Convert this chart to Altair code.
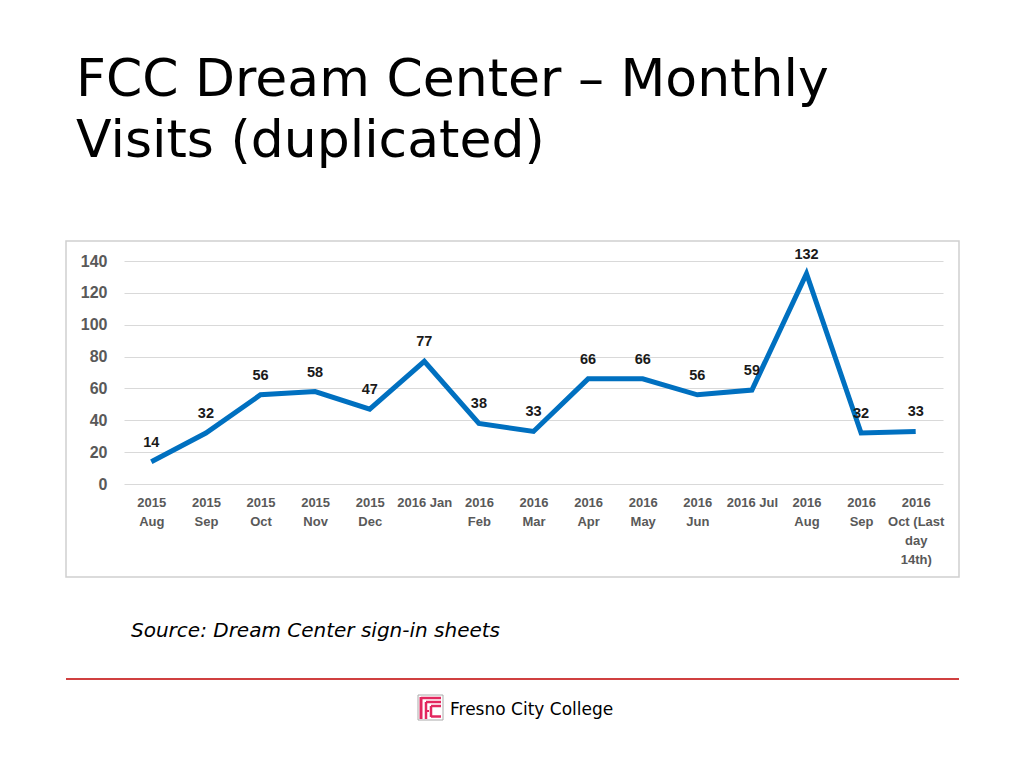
import altair as alt
import pandas as pd

months = ["2015|Aug", "2015|Sep", "2015|Oct", "2015|Nov", "2015|Dec", "2016 Jan",
          "2016|Feb", "2016|Mar", "2016|Apr", "2016|May", "2016|Jun", "2016 Jul",
          "2016|Aug", "2016|Sep", "2016|Oct (Last|day|14th)"]
visits = [14, 32, 56, 58, 47, 77, 38, 33, 66, 66, 56, 59, 132, 32, 33]
y_ticks = [0, 20, 40, 60, 80, 100, 120, 140]

title_lines = ["FCC Dream Center – Monthly", "Visits (duplicated)"]
source_text = "Source: Dream Center sign-in sheets"
footer_text = "Fresno City College"

df = pd.DataFrame({"month": months, "visits": visits})
one = alt.Data(values=[{}])

W, H = 819, 223

x_enc = alt.X("month:N", sort=months, title=None,
              scale=alt.Scale(type="point", padding=0.5),
              axis=alt.Axis(labelAngle=0, labelExpr="split(datum.label, '|')",
                            labelFont="Liberation Sans", labelFontWeight="bold",
                            labelFontSize=13, labelColor="#595959",
                            labelLineHeight=19, labelPadding=12, ticks=False,
                            domain=False, grid=False, labelAlign="center",
                            labelOverlap=False))
y_enc = alt.Y("visits:Q", title=None,
              scale=alt.Scale(domain=[0, 140], nice=False),
              axis=alt.Axis(values=y_ticks, tickCount=8, labelFont="Liberation Sans",
                            labelFontWeight="bold", labelFontSize=16,
                            labelColor="#595959", labelPadding=17, ticks=False,
                            domain=False, gridColor="#d9d9d9", gridWidth=1,
                            labelOverlap=False))

frame = alt.Chart(one).mark_rect(fill="transparent", stroke="#d0d0d0", strokeWidth=1.5).encode(
    x=alt.value(-58), x2=alt.value(835), y=alt.value(-20), y2=alt.value(316))

line = alt.Chart(df).mark_line(color="#0070C0", strokeWidth=5, strokeJoin="miter").encode(
    x=x_enc, y=y_enc)

labels = alt.Chart(df).mark_text(font="Liberation Sans", fontWeight="bold", fontSize=14.5,
                                 color="#1a1a1a", dy=-19, baseline="middle").encode(
    x=x_enc, y=y_enc, text="visits:Q")

t1 = alt.Chart(one).mark_text(text=title_lines[0], font="DejaVu Sans", fontSize=52,
                              align="left", baseline="alphabetic", color="#000000").encode(
    x=alt.value(-48), y=alt.value(-165))
t2 = alt.Chart(one).mark_text(text=title_lines[1], font="DejaVu Sans", fontSize=52,
                              align="left", baseline="alphabetic", color="#000000").encode(
    x=alt.value(-48), y=alt.value(-104))

src = alt.Chart(one).mark_text(text=source_text, font="DejaVu Sans", fontSize=20,
                               fontStyle="italic", align="left", baseline="alphabetic",
                               color="#000000").encode(x=alt.value(7), y=alt.value(376))

redline = alt.Chart(one).mark_rule(color="#c00000", strokeWidth=1.5).encode(
    x=alt.value(-58), x2=alt.value(835), y=alt.value(418))

footer = alt.Chart(one).mark_text(text=footer_text, font="DejaVu Sans", fontSize=17,
                                  align="left", baseline="alphabetic", color="#000000").encode(
    x=alt.value(326), y=alt.value(454))

logo_box = alt.Chart(one).mark_rect(fill="white", stroke="#aaaaaa", strokeWidth=1).encode(
    x=alt.value(294), x2=alt.value(319), y=alt.value(434), y2=alt.value(459))

logo_col = "#e2285f"
def seg(x1, y1, x2, y2, w=2.5):
    return alt.Chart(one).mark_rule(color=logo_col, strokeWidth=w).encode(
        x=alt.value(x1), x2=alt.value(x2), y=alt.value(y1), y2=alt.value(y2))

logo = [
    seg(297, 436, 297, 458, 3),
    seg(297, 437, 317, 437),
    seg(302, 441, 317, 441),
    seg(302, 441, 302, 458),
    seg(307, 445, 307, 456),
    seg(307, 445, 317, 445),
    seg(307, 455.5, 317, 455.5),
    seg(302, 450, 305, 450, 2),
]

chart = alt.layer(frame, line, labels, t1, t2, src, redline, footer, logo_box, *logo).properties(
    width=W, height=H,
    background="white",
    autosize=alt.AutoSizeParams(type="none"),
    padding={"left": 116, "top": 253, "right": 73, "bottom": 276},
).configure_view(stroke=None)

chart.save("out.html", embed_options={"renderer": "svg", "actions": False})
